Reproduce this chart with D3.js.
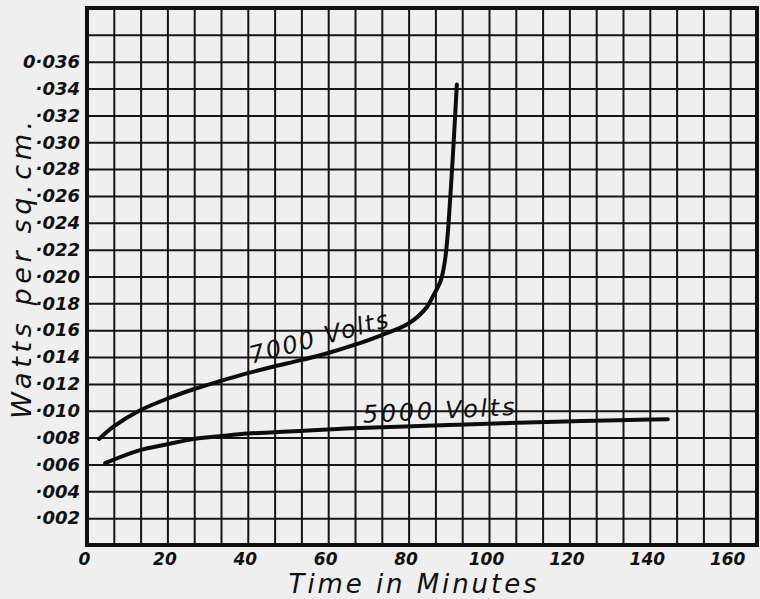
<!DOCTYPE html>
<html>
<head>
<meta charset="utf-8">
<script src="https://cdn.jsdelivr.net/npm/d3@7"></script>
<style>
  body { margin: 0; background: #efefef; }
  svg { display: block; }
  .tick text { font-family: "DejaVu Sans", sans-serif; font-style: oblique; font-weight: bold; fill: #111; }
</style>
</head>
<body>
<svg id="chart" width="760" height="599"></svg>
<script>
// minutes / watts per sq.cm.
let t7000 = [3, 6.5, 13, 20, 26.5, 33, 40, 46.5, 53, 60, 66.5, 73, 80, 84.5, 86, 88, 89, 89.6, 90.5, 91.3, 92]
let v7000 = [0.0079, 0.0088, 0.0100, 0.0109, 0.0116, 0.0122, 0.0128, 0.0133, 0.01375, 0.0143,
             0.0149, 0.0156, 0.0165, 0.0177, 0.0185, 0.0197, 0.0211, 0.0227, 0.0265, 0.0305, 0.0343]

let t5000 = [4.5, 13, 20, 26.5, 33, 40, 46.5, 53, 60, 66, 86, 107, 123, 140, 144.5]
let v5000 = [0.0061, 0.00705, 0.0075, 0.0079, 0.0081, 0.0083, 0.0084, 0.0085, 0.0086,
             0.0087, 0.0089, 0.0091, 0.00923, 0.00935, 0.00937]

let xTicks = [0, 20, 40, 60, 80, 100, 120, 140, 160]
let xTickLabels = ["0", "20", "40", "60", "80", "100", "120", "140", "160"]
let yTicks = [0.002, 0.004, 0.006, 0.008, 0.010, 0.012, 0.014, 0.016, 0.018,
              0.020, 0.022, 0.024, 0.026, 0.028, 0.030, 0.032, 0.034, 0.036]
let yTickLabels = ["·002", "·004", "·006", "·008", "·010", "·012", "·014", "·016", "·018",
                   "·020", "·022", "·024", "·026", "·028", "·030", "·032", "·034", "0·036"]

let seriesNames = ["7000 Volts", "5000 Volts"]

let margin = { left: 87, top: 8, right: 3, bottom: 54 }
let width = 760 - margin.left - margin.right
let height = 599 - margin.top - margin.bottom

let x = d3.scaleLinear().domain([0, 500 / 3]).range([0, width])
let y = d3.scaleLinear().domain([0, 0.040]).range([height, 0])

let svg = d3.select("#chart")
let g = svg.append("g").attr("transform", `translate(${margin.left},${margin.top})`)

// squared paper: 25 columns of 20/3 min, 20 rows of 0.002
let gridX = d3.axisBottom(x)
    .tickValues(d3.range(1, 25).map(i => i * 20 / 3))
    .tickSize(-height)
    .tickFormat("")

let gridY = d3.axisLeft(y)
    .tickValues(d3.range(1, 20).map(i => i * 0.002))
    .tickSize(-width)
    .tickFormat("")

g.append("g").attr("transform", `translate(0,${height})`).call(gridX)
g.append("g").call(gridY)
g.selectAll(".domain").remove()
g.selectAll(".tick line").attr("stroke", "#151515").attr("stroke-width", 2)

g.append("rect")
    .attr("width", width)
    .attr("height", height)
    .attr("fill", "none")
    .attr("stroke", "#111")
    .attr("stroke-width", 4)

let axisL = d3.axisLeft(y)
    .tickValues(yTicks)
    .tickFormat((d, i) => yTickLabels[i])
    .tickSize(0)
    .tickPadding(6)

let axisB = d3.axisBottom(x)
    .tickValues(xTicks)
    .tickFormat((d, i) => xTickLabels[i])
    .tickSize(0)
    .tickPadding(8)

let gl = g.append("g").call(axisL)
gl.select(".domain").remove()
gl.selectAll("text").attr("font-size", 18).attr("dx", -1)

let gb = g.append("g").attr("transform", `translate(0,${height})`).call(axisB)
gb.select(".domain").remove()
gb.selectAll("text").attr("font-size", 17).attr("dx", -3)

// curves
let line = d3.line()
    .x(d => x(d[0]))
    .y(d => y(d[1]))
    .curve(d3.curveCatmullRom.alpha(0.5))

let curves = [d3.zip(t7000, v7000), d3.zip(t5000, v5000)]

g.selectAll("path.curve")
    .data(curves)
    .join("path")
    .attr("class", "curve")
    .attr("d", line)
    .attr("fill", "none")
    .attr("stroke", "#0d0d0d")
    .attr("stroke-width", 4)
    .attr("stroke-linecap", "round")

// curve labels, placed in data units
let labelAt = [[41, 0.0135], [68.7, 0.0091]]
let labelAngle = [-15, -3]
let labelLen = [143, 152]

g.selectAll("text.lab")
    .data(seriesNames)
    .join("text")
    .attr("class", "lab")
    .attr("transform", (d, i) => `translate(${x(labelAt[i][0])},${y(labelAt[i][1])}) rotate(${labelAngle[i]})`)
    .attr("font-family", "DejaVu Sans, sans-serif")
    .attr("font-style", "oblique")
    .attr("font-size", 24)
    .attr("textLength", (d, i) => labelLen[i])
    .attr("lengthAdjust", "spacing")
    .attr("fill", "#111")
    .text(d => d)

// axis titles
svg.append("text")
    .attr("transform", `translate(31,${margin.top + y(0.0205)}) rotate(-90)`)
    .attr("text-anchor", "middle")
    .attr("font-family", "DejaVu Sans, sans-serif")
    .attr("font-style", "oblique")
    .attr("font-size", 27)
    .attr("textLength", 298)
    .attr("lengthAdjust", "spacing")
    .attr("fill", "#111")
    .text("Watts per sq.cm.")

svg.append("text")
    .attr("x", margin.left + x(81))
    .attr("y", 593)
    .attr("text-anchor", "middle")
    .attr("font-family", "DejaVu Sans, sans-serif")
    .attr("font-style", "oblique")
    .attr("font-size", 26)
    .attr("textLength", 248)
    .attr("lengthAdjust", "spacing")
    .attr("fill", "#111")
    .text("Time in Minutes")
</script>
</body>
</html>
